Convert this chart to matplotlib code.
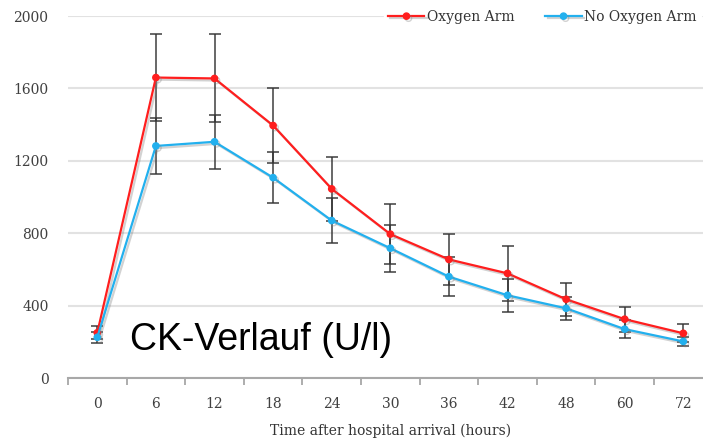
import matplotlib
matplotlib.use("Agg")
import matplotlib.pyplot as plt
import matplotlib.patheffects as pe

hours = ["0", "6", "12", "18", "24", "30", "36", "42", "48", "60", "72"]
oxygen = [250, 1660, 1655, 1395, 1045, 795, 655, 578, 435, 325, 247]
oxygen_err = [35, 240, 243, 207, 178, 165, 140, 150, 92, 70, 50]
no_oxygen = [225, 1282, 1305, 1107, 870, 717, 560, 457, 385, 270, 202]
no_oxygen_err = [30, 157, 150, 142, 124, 130, 106, 91, 65, 49, 25]
yticks = [0, 400, 800, 1200, 1600, 2000]

serif = "DejaVu Serif"

fig = plt.figure(figsize=(7.03, 4.41), dpi=100)
ax = fig.add_axes([68 / 703, 63 / 441, (712.6 - 68) / 703, (378 - 16) / 441])

x = list(range(len(hours)))
shadow = [pe.SimpleLineShadow(offset=(1.5, -1.5), shadow_color="0.5", alpha=0.35), pe.Normal()]

ax.errorbar(x, oxygen, yerr=oxygen_err, fmt="none", ecolor="#333333", elinewidth=1.3,
            capsize=4, capthick=1.3, alpha=0.8, zorder=2)
ax.errorbar(x, no_oxygen, yerr=no_oxygen_err, fmt="none", ecolor="#333333", elinewidth=1.3,
            capsize=4, capthick=1.3, alpha=0.8, zorder=2)
ax.plot(x, oxygen, color="#ff1e1e", lw=1.6, marker="o", ms=4.5, label="Oxygen Arm",
        path_effects=shadow, zorder=3)
ax.plot(x, no_oxygen, color="#22b0ee", lw=1.6, marker="o", ms=4.5, label="No Oxygen Arm",
        path_effects=shadow, zorder=3)

ax.set_xlim(-0.5, len(hours) - 0.5)
ax.set_ylim(0, 2000)
ax.set_yticks(yticks)
ax.set_yticklabels([str(v) for v in yticks], family=serif, fontsize=10, color="#404040")
ax.set_xticks(x)
ax.set_xticklabels(hours, family=serif, fontsize=10, color="#404040")
ax.set_xticks([i - 0.5 for i in range(len(hours) + 1)], minor=True)
ax.tick_params(axis="x", which="major", length=0, pad=14)
ax.tick_params(axis="x", which="minor", length=5, color="#a0a0a0", width=1.2)
ax.tick_params(axis="y", length=0, pad=14)
ax.grid(axis="y", color="#e2e2e2", lw=1.5)
ax.set_axisbelow(True)
for s in ["left", "right", "top"]:
    ax.spines[s].set_visible(False)
ax.spines["bottom"].set_color("#a8a8a8")
ax.spines["bottom"].set_linewidth(1.5)

ax.set_xlabel("Time after hospital arrival (hours)", family=serif, fontsize=10,
              color="#333333", labelpad=9)

leg = fig.legend(loc="center right", bbox_to_anchor=(701 / 703, 1 - 17 / 441), ncol=2, frameon=True,
                 prop={"family": serif, "size": 10}, handlelength=2.6,
                 columnspacing=2.2, handletextpad=0.2, borderaxespad=0, borderpad=0.3)
leg.get_frame().set_edgecolor("white")
leg.get_frame().set_facecolor("white")
leg.get_frame().set_alpha(1)
for t in leg.get_texts():
    t.set_color("#333333")

fig.text(130 / 703, 1 - 340 / 441, "CK-Verlauf (U/l)", family="Liberation Sans", fontsize=27,
         color="black", va="center", ha="left")

fig.savefig("out.png", dpi=100)
